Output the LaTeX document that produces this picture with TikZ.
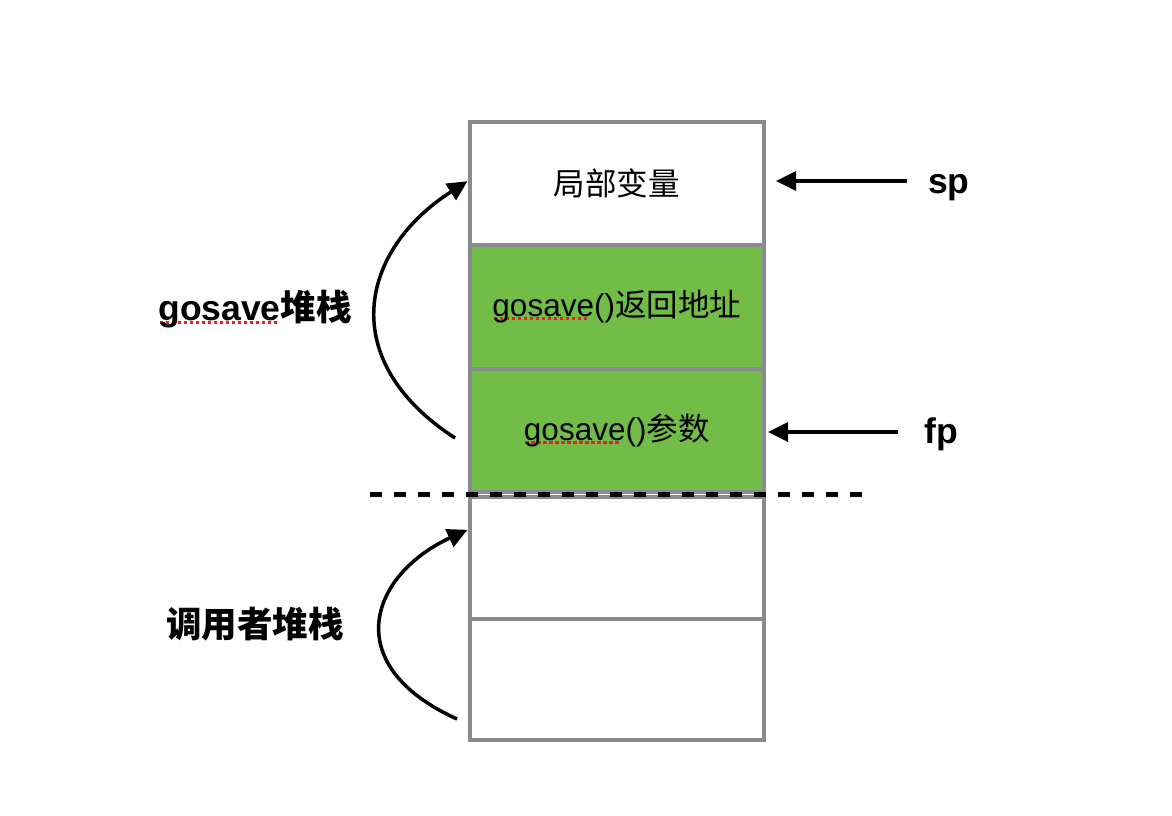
\documentclass[tikz,border=0pt]{standalone}
\usepackage{fontspec}
\setmainfont{Liberation Sans}
\newfontfamily\cjk{Noto Sans CJK SC}
\usetikzlibrary{arrows.meta}
\definecolor{cellgreen}{RGB}{114,189,71}
\definecolor{cellgray}{RGB}{137,139,142}
\definecolor{spell}{RGB}{240,30,35}
\newcommand\squig[1]{\setbox0=\hbox{#1}\rlap{\raisebox{-3.5pt}{\color{spell}\leaders\hbox to 6pt{\hss\rule{3.2pt}{3pt}\hss}\hskip\wd0}}\box0}
\tikzset{
	cell/.style={draw=cellgray, line width=4pt, minimum width=294.5pt, minimum height=123.5pt, inner sep=0pt, font=\fontsize{31.5}{36}\selectfont},
	used/.style={cell, fill=cellgreen},
	lbl/.style={font=\fontsize{35.5}{40}\selectfont\bfseries, inner sep=0pt},
	ptr/.style={line width=3.5pt, -{Triangle[length=20pt,width=19pt]}},
}

\begin{document}
\begin{tikzpicture}[x=1pt,y=-1pt]
		%%%%% START %%%%%
		\useasboundingbox (0,0) rectangle (1172,816);
		
		% gosave frame
		\node[cell] (local) at (616.75, 183.25) {\cjk 局部变量};
		\node[used] (ret) at (616.75, 306.75) {\squig{gosave}()\cjk 返回地址};
		\node[used] (arg) at (616.75, 430.25) {\squig{gosave}()\cjk 参数};
		
		% caller frame
		\node[cell, minimum height=121.5pt] (low1) at (616.75, 557.75) {};
		\node[cell, minimum height=121.5pt] (low2) at (616.75, 679.25) {};
		
		\coordinate (dashL) at (370, 494.5);
		\coordinate (dashR) at (862, 494.5);
		\draw[line width=5pt, dash pattern=on 12pt off 12pt] (dashL) -- (dashR);
		
		% pointers
		\node[lbl, anchor=base west] (sp) at (928, 193) {sp};
		\node[lbl, anchor=base west] (fp) at (924, 443) {fp};
		\coordinate (sptail) at (907, 181);
		\coordinate (fptail) at (898, 432);
		\draw[ptr, shorten >=10pt] (sptail) -- (sptail -| local.east);
		\draw[ptr, shorten >=2pt] (fptail) -- (fptail -| arg.east);
		
		% stack labels
		\node[lbl, anchor=base] (gostack) at (255, 320) {\squig{gosave}{\cjk 堆栈}};
		\node[lbl, anchor=base] (callstack) at (255, 637) {\cjk 调用者堆栈};
		
		\coordinate (upfrom) at (455, 438);
		\coordinate (lowfrom) at (457, 719);
		\draw[ptr] (upfrom) .. controls (335, 360) and (360, 250) .. ([yshift=2pt]local.west);
		\draw[ptr] (lowfrom) .. controls (338, 665) and (370, 575) .. ([yshift=28pt]low1.west);
		
		%%%%% END %%%%%
	\end{tikzpicture}
\end{document}
